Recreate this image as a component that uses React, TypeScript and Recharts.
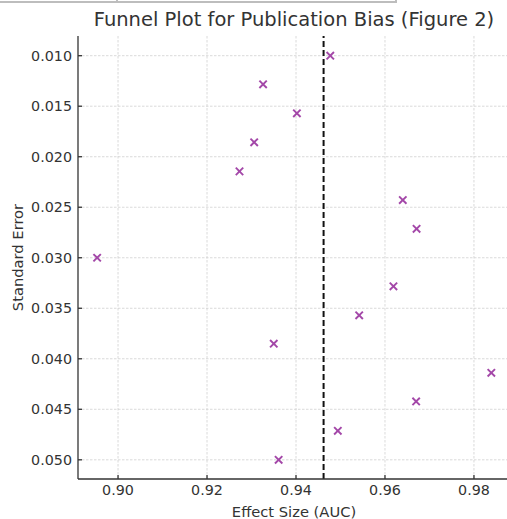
import { ScatterChart, Scatter, XAxis, YAxis, CartesianGrid, ReferenceLine, Label } from 'recharts';

const effectSize = [0.9477, 0.9326, 0.9402, 0.9306, 0.9273, 0.964, 0.9671, 0.8953, 0.9619, 0.9542, 0.935, 0.9839, 0.967, 0.9494, 0.9361];
const standardError = [0.01, 0.01283, 0.0157, 0.01857, 0.02145, 0.02429, 0.02713, 0.03, 0.03283, 0.0357, 0.03851, 0.04139, 0.04422, 0.04713, 0.05];
const pooledEffect = 0.9462;
const xTicks = [0.9, 0.92, 0.94, 0.96, 0.98];
const yTicks = [0.01, 0.015, 0.02, 0.025, 0.03, 0.035, 0.04, 0.045, 0.05];

const points = effectSize.map((x, i) => ({ x, y: standardError[i] }));

const FONT = '"DejaVu Sans", sans-serif';
const MARK = '#a347a8';

function Cross(props: any) {
  const { cx, cy } = props;
  const r = 3.7;
  return (
    <g stroke={MARK} strokeWidth={1.9}>
      <line x1={cx - r} y1={cy - r} x2={cx + r} y2={cy + r} />
      <line x1={cx - r} y1={cy + r} x2={cx + r} y2={cy - r} />
    </g>
  );
}

export default function App() {
  return (
    <div style={{ position: 'absolute', left: 0, top: 0, width: 507, height: 519, overflow: 'hidden', background: '#fff', fontFamily: FONT }}>
      <div style={{ position: 'absolute', left: 0, top: 0, width: 395, height: 1, borderBottom: '2px solid #bdbdbd', borderRight: '2px solid #bdbdbd' }} />
      <div style={{ position: 'absolute', left: 116, top: 0, width: 2, height: 3, background: '#bdbdbd' }} />
      <div style={{ position: 'absolute', left: 0, top: 8, width: 588, textAlign: 'center', fontSize: 19.5, color: '#333', whiteSpace: 'nowrap' }}>
        Funnel Plot for Publication Bias (Figure 2)
      </div>
      <ScatterChart width={510} height={519} margin={{ top: 36, right: 0, bottom: 0, left: 0 }} style={{ position: 'absolute', left: 0, top: 0 }}>
        <CartesianGrid stroke="#d0d0d0" strokeWidth={0.8} strokeDasharray="2.5 1.5" horizontalValues={yTicks} verticalValues={xTicks} />
        <XAxis
          type="number"
          dataKey="x"
          domain={[0.891, 0.9881]}
          ticks={xTicks}
          allowDataOverflow
          height={40}
          tickFormatter={(v: number) => v.toFixed(2)}
          tick={{ fill: '#333', fontSize: 14.3, fontFamily: FONT }}
          tickSize={-4}
          tickMargin={10}
          stroke="#333"
          strokeWidth={1.3}
        >
          <Label value="Effect Size (AUC)" position="insideBottom" offset={2} style={{ fill: '#333', fontSize: 14.7, fontFamily: FONT }} />
        </XAxis>
        <YAxis
          type="number"
          dataKey="y"
          reversed
          domain={[0.00805, 0.0519]}
          ticks={yTicks}
          allowDataOverflow
          width={78}
          tickFormatter={(v: number) => v.toFixed(3)}
          tick={{ fill: '#333', fontSize: 14.3, fontFamily: FONT }}
          tickSize={-4}
          tickMargin={10}
          stroke="#333"
          strokeWidth={1.3}
        >
          <Label value="Standard Error" angle={-90} position="insideLeft" offset={18} style={{ textAnchor: 'middle', fill: '#333', fontSize: 14.7, fontFamily: FONT }} />
        </YAxis>
        <ReferenceLine x={pooledEffect} stroke="#111" strokeWidth={2} strokeDasharray="6 3" />
        <Scatter data={points} shape={<Cross />} isAnimationActive={false} />
      </ScatterChart>
    </div>
  );
}
